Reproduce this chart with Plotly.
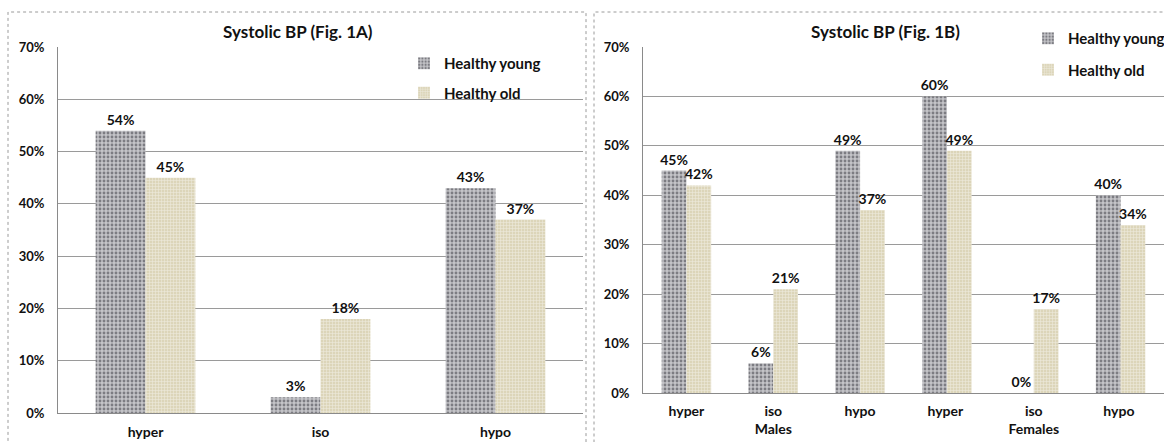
import plotly.graph_objects as go

# ---- data ----
cats_a = ["hyper", "iso", "hypo"]
young_a = [54, 3, 43]
old_a = [45, 18, 37]

cats_b = ["hyper", "iso<br>Males", "hypo", "hyper ", "iso<br>Females", "hypo "]
young_b = [45, 6, 49, 60, 0, 40]
old_b = [42, 21, 37, 49, 17, 34]

series_names = ["Healthy young", "Healthy old"]
title_a = "Systolic BP (Fig. 1A)"
title_b = "Systolic BP (Fig. 1B)"

W, H = 1164, 442
FONT = "Lato"

def px_x(p):
    return p / W

def px_y(p):
    return (H - p) / H

young_style = dict(color="#a9a9ad",
                   pattern=dict(shape=".", fgcolor="#7c7c82", bgcolor="#c4c4c8",
                                size=4, solidity=0.4, fillmode="replace"),
                   line=dict(width=0))
old_style = dict(color="#e2dcc4",
                 pattern=dict(shape="+", fgcolor="#eeeadc", bgcolor="#dcd5b9",
                              size=3, solidity=0.35, fillmode="replace"),
                 line=dict(width=0))

fig = go.Figure()

def add_bars(cats, ys, name, style, xa, ya, leg):
    fig.add_trace(go.Bar(
        x=cats, y=ys, name=f"<b>{name}</b>", marker=style,
        text=[f"{v}%" for v in ys], texttemplate="<b>%{text}</b>",
        textposition="outside", constraintext="none",
        textfont=dict(family=FONT, size=14, color="#111111"),
        cliponaxis=False, xaxis=xa, yaxis=ya, legend=leg,
        legendgroup=leg + name, showlegend=True,
    ))

add_bars(cats_a, young_a, series_names[0], young_style, "x", "y", "legend")
add_bars(cats_a, old_a, series_names[1], old_style, "x", "y", "legend")
add_bars(cats_b, young_b, series_names[0], young_style, "x2", "y2", "legend2")
add_bars(cats_b, old_b, series_names[1], old_style, "x2", "y2", "legend2")

axis_common = dict(showline=True, linecolor="#8a8a8a", linewidth=1,
                   ticks="", zeroline=False, automargin=False,
                   tickfont=dict(family=FONT, size=13, color="#111111"))

yaxis_common = dict(axis_common, range=[0, 70], dtick=10,
                    tickprefix="<b>", ticksuffix="%</b>",
                    showgrid=True, gridcolor="#9a9a9a", gridwidth=1,
                    ticklabelstandoff=10)

xtickfont = dict(family=FONT, size=14, color="#111111")

fig.update_layout(
    width=W, height=H,
    margin=dict(l=0, r=0, t=0, b=0, autoexpand=False),
    paper_bgcolor="white", plot_bgcolor="white",
    barmode="group", bargap=0.43, bargroupgap=0,
    font=dict(family=FONT, size=13, color="#111111"),
    xaxis=dict(axis_common, domain=[px_x(58), px_x(583)], anchor="y",
               showgrid=False, ticklabelstandoff=6, tickfont=xtickfont,
               tickprefix="<b>", ticksuffix="</b>"),
    yaxis=dict(yaxis_common, domain=[px_y(413), px_y(47)], anchor="x"),
    xaxis2=dict(axis_common, domain=[px_x(643), px_x(1164)], anchor="y2",
                showgrid=False, ticklabelstandoff=5, tickfont=xtickfont,
                tickprefix="<b>", ticksuffix="</b>"),
    yaxis2=dict(yaxis_common, domain=[px_y(393), px_y(47)], anchor="x2"),
    legend=dict(x=px_x(404), y=px_y(47), xanchor="left", yanchor="top",
                bgcolor="rgba(0,0,0,0)", tracegroupgap=7,
                font=dict(family=FONT, size=15, color="#111111"),
                itemwidth=30),
    legend2=dict(x=px_x(1028), y=px_y(22), xanchor="left", yanchor="top",
                 bgcolor="rgba(0,0,0,0)", tracegroupgap=9,
                 font=dict(family=FONT, size=15, color="#111111"),
                 itemwidth=30),
    annotations=[
        dict(text=f"<b>{title_a}</b>", x=px_x(298), y=px_y(32), xref="paper",
             yref="paper", showarrow=False, xanchor="center", yanchor="middle",
             font=dict(family=FONT, size=17, color="#111111")),
        dict(text=f"<b>{title_b}</b>", x=px_x(885), y=px_y(32), xref="paper",
             yref="paper", showarrow=False, xanchor="center", yanchor="middle",
             font=dict(family=FONT, size=17, color="#111111")),
    ],
    shapes=[
        dict(type="rect", xref="paper", yref="paper",
             x0=px_x(8), x1=px_x(586), y0=-0.05, y1=px_y(12),
             line=dict(color="#9a9a9a", width=1, dash="dot"), layer="below"),
        dict(type="rect", xref="paper", yref="paper",
             x0=px_x(594), x1=1.05, y0=-0.05, y1=px_y(12),
             line=dict(color="#9a9a9a", width=1, dash="dot"), layer="below"),
    ],
)

fig.write_html("out.html", config={"displayModeBar": False},
               post_script="document.body.style.margin='0';document.body.style.overflow='hidden';")
